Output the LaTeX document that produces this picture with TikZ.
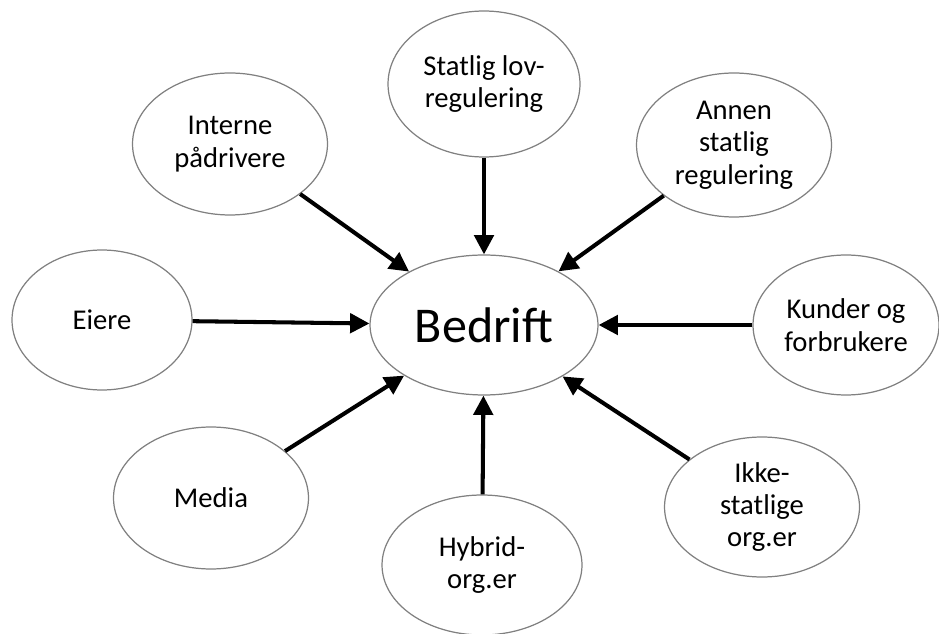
\documentclass[tikz,border=0pt]{standalone}
\usepackage{fontspec}
\setmainfont{Carlito}
\usetikzlibrary{shapes.geometric,arrows.meta}

\begin{document}
\begin{tikzpicture}[x=0.02cm,y=-0.02cm,
    actor/.style={ellipse, draw=black!50, line width=0.7pt, inner sep=0pt,
      minimum width=3.9cm, minimum height=2.84cm, align=center,
      font=\fontsize{16.3}{18.4}\selectfont},
    pull/.style={line width=2.3pt, -{Triangle[length=11pt,width=11pt]}}]
  \useasboundingbox (0,0) rectangle (939,634);
  % Centre
  \node[actor, minimum width=4.56cm, minimum height=2.8cm,
    font=\fontsize{28.5}{32}\selectfont] (bedrift) at (484,325) {Bedrift};

  % Actors round it
  \node[actor, minimum width=3.84cm, minimum height=2.92cm] (statlig) at (484,84) {Statlig lov-\\regulering};
  \node[actor] (interne) at (230,144) {Interne\\pådrivere};
  \node[actor, minimum height=2.88cm] (annen) at (734,145) {Annen\\statlig\\regulering};
  \node[actor, minimum width=3.6cm, minimum height=2.8cm] (eiere) at (102,320) {Eiere};
  \node[actor, minimum width=3.72cm, minimum height=2.8cm] (kunder) at (846,325) {Kunder og\\forbrukere};
  \node[actor] (media) at (211,498) {Media};
  \node[actor, minimum width=4cm, minimum height=2.8cm] (hybrid) at (482,565) {Hybrid-\\org.er};
  \node[actor, minimum height=2.8cm] (ikke) at (762,507) {Ikke-\\statlige\\org.er};

  \draw[pull] (statlig) -- (bedrift);
  \draw[pull] (interne) -- (bedrift);
  \draw[pull] (annen) -- (bedrift);
  \draw[pull] (eiere) -- (bedrift);
  \draw[pull] (kunder) -- (bedrift);
  \draw[pull] (media) -- (bedrift);
  \draw[pull] (hybrid) -- (bedrift);
  \draw[pull] (ikke) -- (bedrift);
\end{tikzpicture}
\end{document}
